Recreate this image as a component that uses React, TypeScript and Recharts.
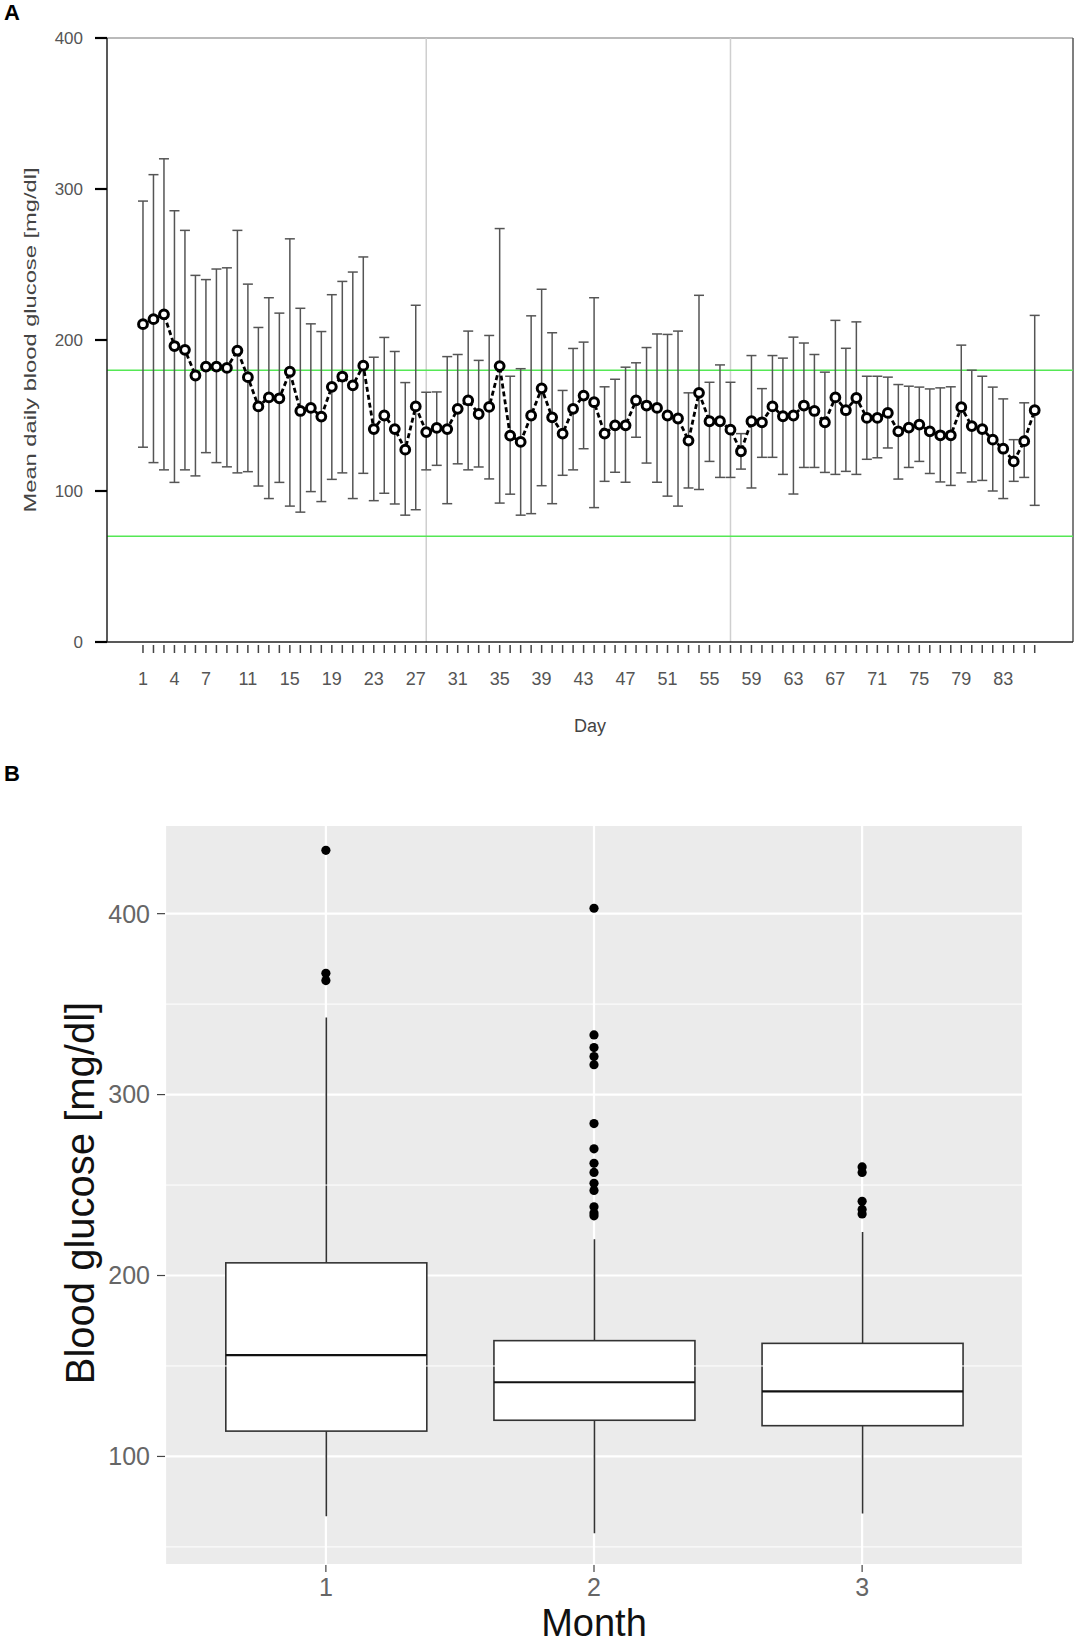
import React from 'react';
import {
  ComposedChart, Line, Bar, Scatter, XAxis, YAxis, ErrorBar, ReferenceLine, CartesianGrid,
} from 'recharts';

const FONT = '"Liberation Sans", Arial, sans-serif';

// Panel A: mean daily blood glucose with +/- SD per day
const meanGlucose = [
  210.5, 213.8, 217, 196, 193.5, 176.5, 182.4, 182.4, 181.5, 193,
  175.4, 156, 162, 161.4, 179, 153, 155, 149.3, 169, 175.8,
  170, 183, 141, 150, 141, 127.4, 156, 139, 141.8, 141,
  154.4, 160, 151, 155.7, 182.7, 136.7, 132.5, 150, 168, 148.8,
  138, 154.4, 163.2, 158.8, 138, 143.5, 143.5, 160, 156.6, 155,
  150, 148, 133.4, 165, 146.2, 146.2, 140.6, 126.3, 146.2, 145.5,
  156, 149.5, 150, 156.6, 153, 145.5, 162, 153.5, 161.6, 148.4,
  148.4, 151.7, 139.5, 142, 144, 139.5, 136.9, 136.9, 155.5, 143,
  141, 134, 128, 119.6, 133, 153.5,
];
const upperSd = [
  292, 309.5, 320, 285.6, 272.6, 242.8, 240, 247, 247.8, 272.6,
  237, 208.3, 228, 217.8, 267, 221, 210.7, 205.6, 230, 238.8,
  245, 255, 188.6, 201.7, 192.4, 171.8, 223, 165.4, 165.6, 189,
  190.4, 205.9, 186.5, 203, 273.8, 176, 181, 216, 233.6, 204.8,
  166.6, 194.4, 198.6, 228, 169, 174, 182, 184.9, 195, 204,
  203.7, 205.9, 165, 229.6, 172, 183.5, 172, 138, 189.7, 167.8,
  189.7, 188, 201.9, 198, 190.4, 178.7, 213, 194.5, 212, 176,
  176, 175.4, 170.5, 169.4, 168.8, 167.6, 168.3, 169, 196.6, 180,
  176, 168.8, 161, 134, 158.4, 216.3,
];
const lowerSd = [
  129, 118.8, 114, 105.7, 114, 110, 125.4, 118.8, 116, 112,
  112.8, 103.3, 95, 105.7, 90, 86, 99.6, 93, 107.7, 112,
  95, 111.7, 93.6, 98.5, 91.4, 84, 87.6, 114, 117, 91.6,
  118, 114, 115.9, 108, 92, 97.9, 84, 85, 103.5, 91.6,
  110.4, 114, 128, 89, 106.4, 112.4, 105.8, 135.6, 118.5, 105.8,
  96.6, 90, 102, 101, 119.6, 109, 109, 114.5, 102, 122.3,
  122.3, 111, 98, 115.6, 115.6, 112.3, 111, 113, 111, 121,
  122, 128.5, 107.9, 115.6, 119.6, 111.6, 106, 103.7, 112, 106,
  107, 100, 95, 106.4, 109, 90.5,
];
const labeledDays = [1, 4, 7, 11, 15, 19, 23, 27, 31, 35, 39, 43, 47, 51, 55, 59, 63, 67, 71, 75, 79, 83];
const yTicksA = [0, 100, 200, 300, 400];
const targetRange = [70, 180];
const monthBreaks = [28, 57];

// Panel B: boxplot per month
const months = [1, 2, 3];
const whiskerLow = [67, 57.5, 68.5];
const quartile1 = [114, 120, 117];
const medians = [156, 141, 136];
const quartile3 = [207, 164, 162.5];
const whiskerHigh = [342.6, 220, 224];
const outliersMonth1 = [435, 367, 363];
const outliersMonth2 = [403, 333, 326, 321, 316.5, 284, 270, 262, 257, 251, 247, 238, 234.5, 233];
const outliersMonth3 = [260, 257, 241, 236.5, 234];
const yTicksB = [100, 200, 300, 400];
const minorTicksB = [50, 150, 250, 350];

const days = meanGlucose.map((_, i) => i + 1);
const dailyData = days.map((day, i) => ({
  day,
  mean: meanGlucose[i],
  err: [meanGlucose[i] - lowerSd[i], upperSd[i] - meanGlucose[i]],
}));

const boxData = months.map((month, i) => ({
  month,
  whisker: [whiskerLow[i], whiskerHigh[i]],
  q1: quartile1[i],
  med: medians[i],
  q3: quartile3[i],
  lo: whiskerLow[i],
  hi: whiskerHigh[i],
}));

const outlierData = [
  ...outliersMonth1.map((v) => ({ month: 1, value: v })),
  ...outliersMonth2.map((v) => ({ month: 2, value: v })),
  ...outliersMonth3.map((v) => ({ month: 3, value: v })),
];

const X_MIN = -2.43;
const X_MAX = 89.65;

const DayTick = ({ x, y, payload }: any) => (
  <g>
    <line x1={x} x2={x} y1={y + 3} y2={y + 11} stroke="#444" strokeWidth={1.5} />
    {labeledDays.includes(payload.value) && (
      <text x={x} y={y + 43} textAnchor="middle" fontSize={18} fill="#555" fontFamily={FONT}>
        {payload.value}
      </text>
    )}
  </g>
);

const BoxShape = (props: any) => {
  const { x, y, width, height, payload } = props;
  const top = Math.min(y, y + height);
  const h = Math.abs(height);
  const py = (v: number) => top + ((payload.hi - v) / (payload.hi - payload.lo)) * h;
  const cx = x + width / 2;
  return (
    <g>
      <line x1={cx} x2={cx} y1={top} y2={top + h} stroke="#333" strokeWidth={1.6} />
      <rect x={x} y={py(payload.q3)} width={width} height={py(payload.q1) - py(payload.q3)}
        fill="#fff" stroke="#333" strokeWidth={1.6} />
      <line x1={x} x2={x + width} y1={py(payload.med)} y2={py(payload.med)} stroke="#111" strokeWidth={2.2} />
    </g>
  );
};

export default function App() {
  return (
    <div style={{ position: 'absolute', left: 0, top: 0, width: 1077, height: 1647, background: '#fff', overflow: 'hidden' }}>
      <div style={{ position: 'absolute', left: 4, top: 1, fontFamily: FONT, fontWeight: 'bold', fontSize: 22, lineHeight: '24px' }}>A</div>
      <div style={{ position: 'absolute', left: 4, top: 762, fontFamily: FONT, fontWeight: 'bold', fontSize: 22, lineHeight: '24px' }}>B</div>

      <div style={{ position: 'absolute', left: 0, top: 0 }}>
        <ComposedChart width={1077} height={760} data={dailyData} margin={{ top: 38, right: 4, left: 0, bottom: 18 }}>
          <XAxis
            dataKey="day" type="number" domain={[X_MIN, X_MAX]} ticks={days} interval={0}
            allowDataOverflow tickSize={0} tickMargin={0} tick={<DayTick />} height={100}
            axisLine={{ stroke: '#222', strokeWidth: 1.5 }}
            label={{
              content: (p: any) => (
                <text x={p.viewBox.x + p.viewBox.width / 2} y={732} textAnchor="middle" fontSize={18} fill="#444" fontFamily={FONT}>
                  Day
                </text>
              ),
            }}
          />
          <YAxis
            type="number" domain={[0, 400]} ticks={yTicksA} width={107} allowDataOverflow
            tickSize={12} tickMargin={12}
            tickLine={{ stroke: '#000', strokeWidth: 2.2 }}
            axisLine={{ stroke: '#222', strokeWidth: 1.5 }}
            tick={{ fontSize: 17, fill: '#555', fontFamily: FONT }}
            label={{
              content: () => (
                <text transform="translate(30,340) rotate(-90)" textAnchor="middle" dominantBaseline="central"
                  fontSize={17} fill="#444" fontFamily={FONT} textLength={345} lengthAdjust="spacingAndGlyphs">
                  Mean daily blood glucose [mg/dl]
                </text>
              ),
            }}
          />
          <ReferenceLine y={400} stroke="#777" strokeWidth={1.2} ifOverflow="visible" />
          <ReferenceLine x={X_MAX} stroke="#555" strokeWidth={1.5} ifOverflow="visible" />
          {monthBreaks.map((d) => (
            <ReferenceLine key={'m' + d} x={d} stroke="#cfcfcf" strokeWidth={1.5} />
          ))}
          {targetRange.map((v) => (
            <ReferenceLine key={'t' + v} y={v} stroke="#55e855" strokeWidth={1.6} />
          ))}
          <Line
            dataKey="mean" type="linear" stroke="#000" strokeWidth={2.8} strokeDasharray="5 3"
            isAnimationActive={false} activeDot={false}
            dot={(p: any) => (
              <circle key={'d' + p.index} cx={p.cx} cy={p.cy} r={4.4} fill="#fff" stroke="#000" strokeWidth={3} />
            )}
          >
            <ErrorBar dataKey="err" direction="y" width={5} stroke="#555" strokeWidth={1.5} isAnimationActive={false} />
          </Line>
        </ComposedChart>
      </div>

      <div style={{ position: 'absolute', left: 0, top: 760 }}>
        <ComposedChart width={1077} height={887} data={boxData} margin={{ top: 65, right: 54, left: 0, bottom: 0 }}>
          <CartesianGrid fill="#ebebeb" stroke="#fff" strokeWidth={2.2} />
          {minorTicksB.map((v) => (
            <ReferenceLine key={'n' + v} y={v} stroke="#fff" strokeWidth={1} />
          ))}
          <XAxis
            dataKey="month" type="number" domain={[0.4, 3.6]} ticks={months} interval={0} allowDataOverflow
            height={82} tickSize={7} tickMargin={6} axisLine={false}
            tickLine={{ stroke: '#444', strokeWidth: 1.2 }}
            tick={{ fontSize: 25, fill: '#666', fontFamily: FONT }}
            label={{
              content: (p: any) => (
                <text x={p.viewBox.x + p.viewBox.width / 2} y={876} textAnchor="middle" fontSize={38} fill="#111" fontFamily={FONT}>
                  Month
                </text>
              ),
            }}
          />
          <YAxis
            type="number" domain={[40, 449]} ticks={yTicksB} width={165} allowDataOverflow
            tickSize={8} tickMargin={7} axisLine={false}
            tickLine={{ stroke: '#444', strokeWidth: 1.2 }}
            tick={{ fontSize: 25, fill: '#666', fontFamily: FONT }}
            label={{
              content: () => (
                <text transform="translate(80,433) rotate(-90)" textAnchor="middle" dominantBaseline="central"
                  fontSize={40} fill="#111" fontFamily={FONT}>
                  Blood glucose [mg/dl]
                </text>
              ),
            }}
          />
          <Bar dataKey="whisker" barSize={201} shape={<BoxShape />} isAnimationActive={false} />
          <Scatter
            data={outlierData} dataKey="value" isAnimationActive={false}
            shape={(p: any) => <circle cx={p.cx} cy={p.cy} r={4.6} fill="#000" />}
          />
        </ComposedChart>
      </div>
    </div>
  );
}
